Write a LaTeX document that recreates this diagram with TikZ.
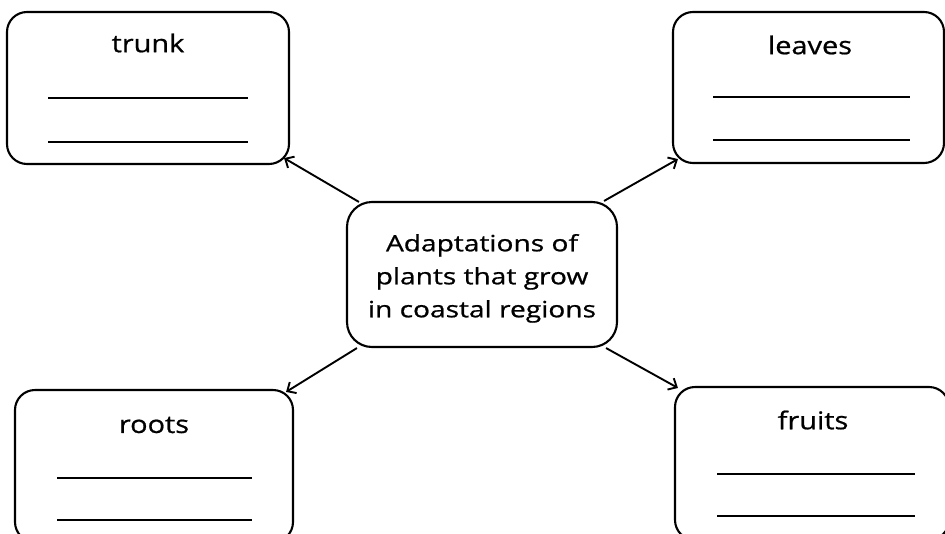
\documentclass[tikz,border=0pt]{standalone}
\usepackage{fontspec}
\setmainfont{Open Sans}
\newfontfamily\labelfont[FakeStretch=1.18,FakeBold=0.8]{Open Sans}
\newfontfamily\hubfont[FakeStretch=1.25,FakeBold=0.8]{Open Sans}
\usetikzlibrary{calc,arrows.meta}
\begin{document}
\begin{tikzpicture}[x=1pt,y=-1pt,
  box/.style={draw, line width=2.1pt, rounded corners=20pt, inner sep=0pt},
  lbl/.style={inner sep=0pt, text=black, font=\labelfont\fontsize{24.5}{28}\selectfont},
  blank/.style={line width=1.8pt},
  arr/.style={line width=1.9pt, -{Straight Barb[length=7pt,width=13pt]}}]
\useasboundingbox (0,0) rectangle (945,533);
\clip (0,0) rectangle (945,533);
\node[box, minimum width=282pt, minimum height=152pt] (trunk) at (148,88) {};
\node[box, minimum width=271pt, minimum height=151pt] (leaves) at (808.5,87.5) {};
\node[box, minimum width=278pt, minimum height=152pt] (roots) at (154,466) {};
\node[box, minimum width=274pt, minimum height=153pt] (fruits) at (812,463.5) {};
\node[box, rounded corners=25pt, minimum width=270pt, minimum height=145pt, align=center, text=black,
  font=\hubfont\fontsize{22.5}{33}\selectfont] (hub) at (482,274.5) {\rule{0pt}{25pt}Adaptations of\\plants that grow\\in coastal regions};
\node[lbl] (trunkT) at (148,43) {trunk};
\node[lbl] (leavesT) at (810,45) {leaves};
\node[lbl] (rootsT) at (154,425) {roots};
\node[lbl] (fruitsT) at (813,420) {fruits};
\draw[blank] (48,98) -- (248,98);
\draw[blank] (48,142) -- (248,142);
\draw[blank] (713,97) -- (910,97);
\draw[blank] (713,140) -- (910,140);
\draw[blank] (57,478) -- (252,478);
\draw[blank] (57,520) -- (252,520);
\draw[blank] (717,474) -- (915,474);
\draw[blank] (717,516) -- (915,516);
\draw[arr] ($(hub.north west)+(13,1)$) -- ($(trunk.south east)+(-6,-7)$);
\draw[arr] ($(hub.north east)+(-14,0)$) -- ($(leaves.south west)+(6,-5)$);
\draw[arr] ($(hub.south west)+(11,0)$) -- ($(roots.north east)+(-8,3)$);
\draw[arr] ($(hub.south east)+(-12,0)$) -- ($(fruits.north west)+(4,2)$);
\end{tikzpicture}
\end{document}
